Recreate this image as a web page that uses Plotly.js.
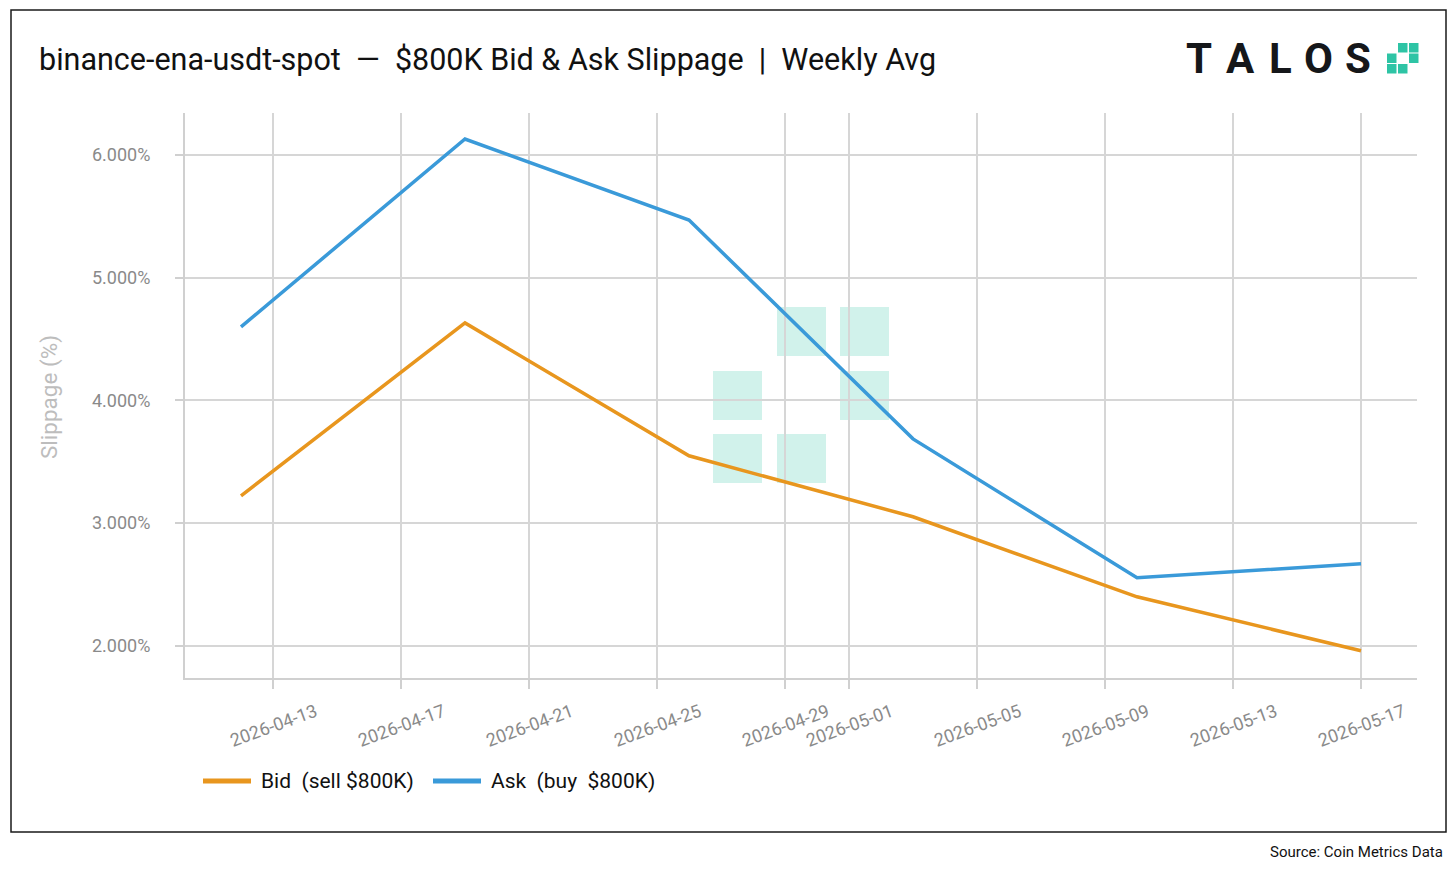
<!DOCTYPE html>
<html>
<head>
<meta charset="utf-8">
<script src="https://cdn.plot.ly/plotly-3.0.1.min.js"></script>
<style>
  html, body { margin: 0; padding: 0; background: #ffffff; }
  #chart { width: 1456px; height: 870px; }
</style>
</head>
<body>
<div id="chart"></div>
<script>
// ---- Data ----
const weeks = ['2026-04-12', '2026-04-19', '2026-04-26', '2026-05-03', '2026-05-10', '2026-05-17'];
const bidSlippage = [3.222, 4.631, 3.548, 3.051, 2.399, 1.959];
const askSlippage = [4.599, 6.130, 5.470, 3.686, 2.554, 2.668];
const seriesNames = ['Bid\u00a0\u00a0(sell $800K)', 'Ask\u00a0\u00a0(buy\u00a0\u00a0$800K)'];
const seriesColors = ['#E8961E', '#3A9AD9'];
const xTickVals = ['2026-04-13', '2026-04-17', '2026-04-21', '2026-04-25', '2026-04-29',
                   '2026-05-01', '2026-05-05', '2026-05-09', '2026-05-13', '2026-05-17'];
const yTickVals = [2, 3, 4, 5, 6];
const yTickText = ['2.000%', '3.000%', '4.000%', '5.000%', '6.000%'];
const titleText = 'binance-ena-usdt-spot\u00a0\u00a0\u2014\u00a0\u00a0$800K Bid & Ask Slippage\u00a0\u00a0|\u00a0\u00a0Weekly Avg';
const logoLetters = ['T', 'A', 'L', 'O', 'S'];
const sourceText = 'Source: Coin Metrics Data';

// ---- Geometry helpers (plot area in pixels) ----
const W = 1456, H = 870;
const L = 185, R = 1417, T = 113, B = 678;
const px = x => (x - L) / (R - L);
const py = y => (B - y) / (B - T);

const traces = [
  { x: weeks, y: bidSlippage, name: seriesNames[0], type: 'scatter', mode: 'lines',
    line: { color: seriesColors[0], width: 3.5 }, showlegend: false },
  { x: weeks, y: askSlippage, name: seriesNames[1], type: 'scatter', mode: 'lines',
    line: { color: seriesColors[1], width: 3.5 }, showlegend: false }
];

const shapes = [];
const annotations = [];

// outer border
shapes.push({ type: 'rect', xref: 'paper', yref: 'paper',
  x0: px(11), x1: px(1446), y0: py(832), y1: py(10),
  line: { color: '#1a1a1a', width: 1.5 }, fillcolor: 'rgba(0,0,0,0)', layer: 'above' });

// watermark squares (Talos mark)
const wmCells = [[1, 0], [2, 0], [0, 1], [2, 1], [0, 2], [1, 2]];
const wmX = [713, 777, 840], wmY = [307, 371, 434], wmS = 49;
wmCells.forEach(([c, r]) => {
  shapes.push({ type: 'rect', xref: 'paper', yref: 'paper',
    x0: px(wmX[c]), x1: px(wmX[c] + wmS), y0: py(wmY[r] + wmS), y1: py(wmY[r]),
    line: { width: 0 }, fillcolor: 'rgba(46,196,165,0.22)', layer: 'below' });
});

// logo squares
const lgX = [1387, 1398, 1409], lgY = [43, 53.5, 64], lgS = 9.5;
wmCells.forEach(([c, r]) => {
  shapes.push({ type: 'rect', xref: 'paper', yref: 'paper',
    x0: px(lgX[c]), x1: px(lgX[c] + lgS), y0: py(lgY[r] + lgS), y1: py(lgY[r]),
    line: { width: 0 }, fillcolor: '#2EC4A5', layer: 'above' });
});

// logo letters
const letterX = [1199, 1240, 1280, 1318, 1358];
logoLetters.forEach((ch, i) => {
  annotations.push({ text: '<b>' + ch + '</b>', xref: 'paper', yref: 'paper',
    x: px(letterX[i]), y: py(58), xanchor: 'center', yanchor: 'middle', showarrow: false,
    font: { family: 'Roboto, sans-serif', size: 42, color: '#15171a' } });
});

// x tick labels (rotated about their centre)
xTickVals.forEach(d => {
  annotations.push({ text: d, xref: 'x', yref: 'paper', x: d, y: py(725),
    xanchor: 'center', yanchor: 'middle', showarrow: false, textangle: -20,
    font: { family: 'Roboto, sans-serif', size: 18, color: '#8a8a8a' } });
});

// y axis title
annotations.push({ text: 'Slippage (%)', xref: 'paper', yref: 'paper', x: px(50), y: py(397),
  xanchor: 'center', yanchor: 'middle', showarrow: false, textangle: -90,
  font: { family: 'Roboto, sans-serif', size: 22.5, color: '#bdbdbd' } });

// custom legend
const legLineX = [203, 433], legTextX = [259, 489], legY = 781;
seriesNames.forEach((n, i) => {
  shapes.push({ type: 'line', xref: 'paper', yref: 'paper',
    x0: px(legLineX[i]), x1: px(legLineX[i] + 48), y0: py(legY), y1: py(legY),
    line: { color: seriesColors[i], width: 5 }, layer: 'above' });
  annotations.push({ text: n, xref: 'paper', yref: 'paper', x: px(legTextX[i]), y: py(legY),
    xanchor: 'left', yanchor: 'middle', showarrow: false,
    font: { family: 'Roboto, sans-serif', size: 21, color: '#111111' } });
});

// source
annotations.push({ text: sourceText, xref: 'paper', yref: 'paper', x: px(1445), y: py(852),
  xanchor: 'right', yanchor: 'middle', showarrow: false,
  font: { family: 'Roboto, sans-serif', size: 15, color: '#111111' } });

const layout = {
  width: W, height: H,
  margin: { l: L, r: W - R, t: T, b: H - B, pad: 0 },
  paper_bgcolor: '#ffffff', plot_bgcolor: '#ffffff',
  showlegend: false,
  title: { text: titleText, x: 39 / W, xanchor: 'left', xref: 'container',
    y: 1 - 59 / H, yanchor: 'middle', yref: 'container',
    font: { family: 'Roboto, sans-serif', size: 30.5, color: '#111111' } },
  xaxis: {
    type: 'date', range: ['2026-04-10 06:00', '2026-05-18 18:00'],
    tickmode: 'array', tickvals: xTickVals, showticklabels: false,
    ticks: 'outside', ticklen: 9, tickwidth: 2, tickcolor: '#d0d0d0',
    showgrid: true, gridcolor: '#d6d6d6', gridwidth: 2,
    showline: true, linecolor: '#d0d0d0', linewidth: 2, zeroline: false
  },
  yaxis: {
    range: [1.737, 6.342], tickmode: 'array', tickvals: yTickVals, ticktext: yTickText,
    ticks: 'outside', ticklen: 8, tickwidth: 2, tickcolor: '#d0d0d0',
    ticklabelstandoff: 21,
    tickfont: { family: 'Roboto, sans-serif', size: 18, color: '#8a8a8a' },
    showgrid: true, gridcolor: '#d6d6d6', gridwidth: 2,
    showline: true, linecolor: '#d0d0d0', linewidth: 2, zeroline: false
  },
  shapes: shapes,
  annotations: annotations
};

Plotly.newPlot('chart', traces, layout, { displayModeBar: false, staticPlot: true });
</script>
</body>
</html>
